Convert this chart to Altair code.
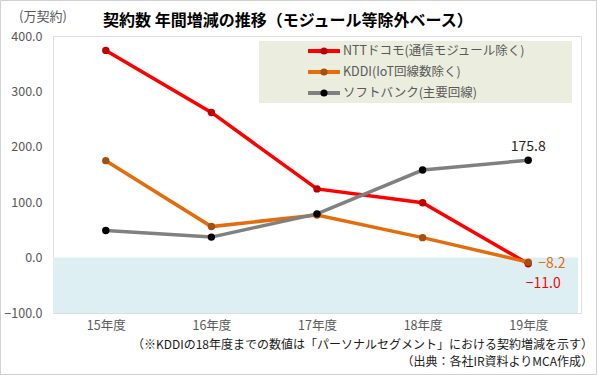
import altair as alt
import pandas as pd

FONT = "Noto Sans CJK JP"

years = ["15年度", "16年度", "17年度", "18年度", "19年度"]
series_names = ["NTTドコモ(通信モジュール除く)", "KDDI(IoT回線数除く)", "ソフトバンク(主要回線)"]
ntt = [374.0, 262.0, 124.0, 99.0, -11.0]
kddi = [175.0, 56.0, 77.0, 36.0, -8.2]
sb = [49.0, 37.0, 79.0, 158.0, 175.8]
line_colors = ["#FF0000", "#E46C0A", "#808080"]
marker_colors = ["#C00000", "#A5500F", "#000000"]
y_ticks = [-100, 0, 100, 200, 300, 400]

title_text = "契約数 年間増減の推移（モジュール等除外ベース）"
unit_text = "(万契約)"
note1 = "（※KDDIの18年度までの数値は「パーソナルセグメント」における契約増減を示す）"
note2 = "（出典：各社IR資料よりMCA作成）"

rows = []
for name, vals in zip(series_names, [ntt, kddi, sb]):
    for i, (yr, v) in enumerate(zip(years, vals)):
        rows.append({"year": yr, "series": name, "value": v, "order": i})
df = pd.DataFrame(rows)

x_enc = alt.X("year:N", sort=years, scale=alt.Scale(padding=0.5),
              axis=alt.Axis(title=None, domain=False, ticks=False, grid=False, labelAngle=0,
                            labelPadding=6, labelFontSize=12.5, labelColor="#595959", labelFont=FONT))
y_enc = alt.Y("value:Q", scale=alt.Scale(domain=[-100, 400], nice=False),
              axis=alt.Axis(title=None, values=y_ticks, format=".1f", domain=False, ticks=False,
                            labelPadding=11, labelFontSize=12.5, labelColor="#595959", labelFont=FONT,
                            gridColor="#D9D9D9", gridWidth=1))

base = alt.Chart(df)

neg_band = alt.Chart(pd.DataFrame({"a": [0]})).mark_rect(color="#DEEFF4").encode(
    x=alt.value(0), x2=alt.value(525),
    y=alt.datum(0, type="quantitative"), y2=alt.datum(-100))

lines = base.mark_line(strokeWidth=3.5).encode(
    x=x_enc, y=y_enc,
    stroke=alt.Stroke("series:N", sort=series_names,
                      scale=alt.Scale(domain=series_names, range=line_colors), legend=None),
    order="order:Q")

points = base.mark_point(filled=True, size=55, opacity=1).encode(
    x=alt.X("year:N", sort=years), y="value:Q",
    fill=alt.Fill("series:N", scale=alt.Scale(domain=series_names, range=marker_colors), legend=None))

# data labels for the last year
lab_sb = base.transform_filter(
    (alt.datum.series == series_names[2]) & (alt.datum.year == years[4])
).mark_text(fontSize=14, font=FONT, color="#262626", dy=-13).encode(
    x=alt.X("year:N", sort=years), y="value:Q", text=alt.Text("value:Q", format=".1f"))
lab_kddi = base.transform_filter(
    (alt.datum.series == series_names[1]) & (alt.datum.year == years[4])
).mark_text(fontSize=14, font=FONT, color="#E46C0A", align="left", dx=10, dy=2).encode(
    x=alt.X("year:N", sort=years), y="value:Q", text=alt.Text("value:Q", format=".1f"))
lab_ntt = base.transform_filter(
    (alt.datum.series == series_names[0]) & (alt.datum.year == years[4])
).mark_text(fontSize=14, font=FONT, color="#FF0000", dx=15, dy=20).encode(
    x=alt.X("year:N", sort=years), y="value:Q", text=alt.Text("value:Q", format=".1f"))

# legend
legend_layers = [alt.Chart(pd.DataFrame({"a": [0]})).mark_rect(color="#EBEDDF").encode(
    x=alt.value(206), x2=alt.value(519), y=alt.value(5), y2=alt.value(67))]
for i, name in enumerate(series_names):
    yy = 15 + 21 * i
    one = alt.Chart(pd.DataFrame({"name": [name]}))
    legend_layers.append(one.mark_rule(color=line_colors[i], strokeWidth=4).encode(
        x=alt.value(255), x2=alt.value(287), y=alt.value(yy)))
    legend_layers.append(one.mark_point(filled=True, size=50, opacity=1, color=marker_colors[i]).encode(
        x=alt.value(271), y=alt.value(yy)))
    legend_layers.append(one.mark_text(align="left", baseline="middle", fontSize=12.5, font=FONT,
                                       color="#595959").encode(
        x=alt.value(290), y=alt.value(yy), text="name:N"))

def text_layer(t, x, y, align, size, color, weight="normal"):
    return alt.Chart(pd.DataFrame({"t": [t]})).mark_text(
        align=align, baseline="middle", fontSize=size, font=FONT, color=color, fontWeight=weight
    ).encode(x=alt.value(x), y=alt.value(y), text="t:N")

texts = [
    text_layer(title_text, 50, -15, "left", 16, "#000000", "bold"),
    text_layer(unit_text, -34, -19, "left", 13, "#595959"),
    text_layer(note1, 540, 308.5, "right", 12, "#1a1a1a"),
    text_layer(note2, 540, 326, "right", 12, "#1a1a1a"),
]

border = alt.Chart(pd.DataFrame({"a": [0]})).mark_rect(
    fillOpacity=0, stroke="#D0D0D0", strokeWidth=1).encode(
    x=alt.value(-52.5), x2=alt.value(543.5), y=alt.value(-35.5), y2=alt.value(338.5))

chart = alt.layer(
    neg_band, lines, points, lab_sb, lab_kddi, lab_ntt, *legend_layers, *texts, border
).resolve_scale(fill="independent").properties(
    width=528, height=277,
    autosize=alt.AutoSizeParams(type="none"),
    padding={"left": 53, "top": 36, "right": 16, "bottom": 62},
).configure_view(stroke=None).configure(background="white")

chart.save("out.html", embed_options={"renderer": "svg", "actions": False})
